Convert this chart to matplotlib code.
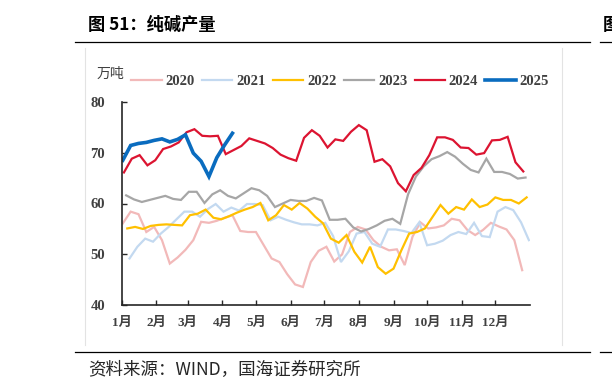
import numpy as np
import matplotlib
matplotlib.use('Agg')
import matplotlib.pyplot as plt
from matplotlib.lines import Line2D

# weekly soda ash output (10k t)
y2020 = [56.1, 58.4, 57.9, 54.4, 55.4, 52.8, 48.2, 49.4, 50.9, 52.8, 56.4, 56.2, 56.6, 57.2, 57.7, 54.6, 54.4, 54.4, 51.8, 49.2,
         48.5, 46.1, 44.1, 43.6, 48.5, 50.7, 51.5, 48.6, 50.0, 54.4, 55.4, 54.9, 52.8, 51.5, 50.8, 51.0, 47.9, 53.5, 56.3, 55.1,
         55.3, 55.7, 57.0, 56.7, 54.8, 53.8, 54.8, 56.2, 55.5, 54.9, 52.8, 46.9]
y2021 = [49.2, 51.5, 53.1, 52.5, 54.1, 55.4, 56.9, 58.4, 58.4, 57.4, 58.9, 59.9, 58.4, 59.2, 58.6, 59.9, 59.9, 59.7, 56.7, 57.4,
         56.8, 56.3, 55.9, 55.9, 55.7, 56.2, 53.6, 48.5, 50.6, 54.1, 54.4, 52.1, 51.5, 54.9, 54.9, 54.6, 54.2, 56.3, 51.8, 52.1,
         52.7, 53.8, 54.4, 54.0, 56.2, 53.6, 53.4, 58.4, 59.3, 58.7, 56.3, 52.8]
y2022 = [55.1, 55.4, 55.0, 55.6, 55.8, 55.9, 55.8, 55.7, 57.7, 58.0, 58.8, 57.2, 56.9, 57.5, 58.2, 58.8, 59.3, 60.1, 56.7, 57.7,
         59.7, 58.8, 60.1, 59.0, 57.4, 56.1, 53.1, 52.3, 53.8, 50.5, 48.4, 51.5, 47.5, 46.2, 47.2, 50.8, 54.1, 54.4, 55.1, 57.4,
         59.7, 58.0, 59.3, 58.8, 60.8, 59.3, 59.8, 61.2, 60.7, 60.7, 60.0, 61.2]
y2023 = [61.6, 60.8, 60.3, 60.7, 61.1, 61.5, 60.9, 60.7, 62.3, 62.3, 60.1, 61.8, 62.6, 61.5, 61.0, 62.0, 63.0, 62.6, 61.5, 59.3,
         60.0, 60.7, 60.5, 60.5, 61.1, 60.6, 56.8, 56.8, 57.0, 55.3, 54.5, 55.0, 55.7, 56.6, 57.0, 56.0, 61.8, 65.3, 67.3, 68.7,
         69.3, 70.1, 69.2, 67.8, 66.6, 66.1, 68.8, 66.2, 66.2, 65.8, 64.9, 65.1]
y2024 = [66.1, 68.8, 69.5, 67.5, 68.5, 70.7, 71.2, 72.0, 74.0, 74.6, 73.3, 73.2, 73.3, 69.7, 70.5, 71.3, 72.8, 72.3, 71.8, 70.9,
         69.6, 68.9, 68.4, 72.9, 74.4, 73.3, 71.0, 72.6, 72.3, 74.1, 75.4, 74.4, 68.2, 68.7, 67.3, 64.0, 62.4, 65.6, 67.0, 69.5,
         73.0, 73.0, 72.5, 71.0, 70.9, 69.6, 69.9, 72.4, 72.5, 73.1, 68.1, 66.3]
y2025 = [68.5, 71.4, 71.8, 72.0, 72.4, 72.7, 72.1, 72.6, 73.5, 69.9, 68.3, 65.3, 69.0, 71.5, 73.8]

years = ['2020', '2021', '2022', '2023', '2024', '2025']
first_day = [1, 7, 5, 4, 2, 1]
colors = ['#F2B9B9', '#C3D9F0', '#FFC000', '#A6A6A6', '#DC1431', '#0A6CBF']
widths = [1.6, 1.6, 1.6, 1.6, 1.6, 2.6]

month_days = [0, 31, 59, 90, 120, 151, 181, 212, 243, 273, 304, 334]
month_labels = ['1月', '2月', '3月', '4月', '5月', '6月', '7月', '8月', '9月', '10月', '11月', '12月']

W, H = 612, 392
fig = plt.figure(figsize=(W / 100, H / 100), dpi=100)
ax = fig.add_axes([121.7 / W, 1 - 305.3 / H, (530 - 121.7) / W, (305.3 - 101.7) / H])

series = [y2020, y2021, y2022, y2023, y2024, y2025]
handles = []
for vals, d0, c, lw, lab in zip(series, first_day, colors, widths, years):
    x = d0 + 7 * np.arange(len(vals))
    ln, = ax.plot(x, vals, color=c, lw=lw, label=lab, solid_joinstyle='miter')
    handles.append(ln)

ax.set_xlim(0, 365)
ax.set_ylim(40, 80)
ax.set_yticks([40, 50, 60, 70, 80])
ax.set_xticks(month_days)
ax.set_xticklabels(month_labels)
for s in ['top', 'right']:
    ax.spines[s].set_visible(False)
for s in ['left', 'bottom']:
    ax.spines[s].set_color('#262626')
    ax.spines[s].set_linewidth(1.2)
ax.tick_params(axis='both', direction='in', length=3.5, width=1, color='#262626')
ax.tick_params(axis='y', pad=12)
ax.tick_params(axis='x', pad=8)
for t in ax.get_yticklabels():
    t.set_fontfamily(['Liberation Serif'])
    t.set_fontweight('bold')
    t.set_fontsize(10.5)
    t.set_color('#404040')
for t in ax.get_xticklabels():
    t.set_fontfamily(['Liberation Serif', 'Noto Sans CJK SC'])
    t.set_fontweight('bold')
    t.set_fontsize(9.5)
    t.set_color('#404040')

leg = fig.legend(handles=handles, loc='center left', bbox_to_anchor=(131 / W, 1 - 81.5 / H), ncol=6, frameon=False,
                 borderpad=0, borderaxespad=0, handlelength=2.1, handletextpad=0.25, columnspacing=0.5,
                 prop={'family': 'Liberation Serif', 'weight': 'bold', 'size': 10.5})
for t in leg.get_texts():
    t.set_color('#404040')

fig.text(97 / W, 1 - 74 / H, '万吨', family=['Noto Sans CJK SC'], fontsize=10, color='#404040', va='center')

# page furniture: title, rules, panel frame, source
fig.text(88 / W, 1 - 25 / H, '图 51：纯碱产量', family=['Noto Sans CJK SC'], fontweight='bold', fontsize=12.4,
         va='center', color='black')
fig.text(603 / W, 1 - 25 / H, '图', family=['Noto Sans CJK SC'], fontweight='bold', fontsize=12.4, va='center')
for x0, x1 in [(75, 590), (600, 612)]:
    fig.add_artist(Line2D([x0 / W, x1 / W], [1 - 42 / H, 1 - 42 / H], color='black', lw=0.9))
    fig.add_artist(Line2D([x0 / W, x1 / W], [1 - 352 / H, 1 - 352 / H], color='black', lw=0.9))
for xf in [85, 562]:
    fig.add_artist(Line2D([xf / W, xf / W], [1 - 48 / H, 1 - 345 / H], color='#E3E3E3', lw=0.8))
fig.text(88 / W, 1 - 370 / H, '资料来源：WIND，国海证券研究所', family=['Noto Sans CJK SC'], fontsize=12.6,
         va='center', color='#262626')

fig.savefig('out.png', dpi=100)
